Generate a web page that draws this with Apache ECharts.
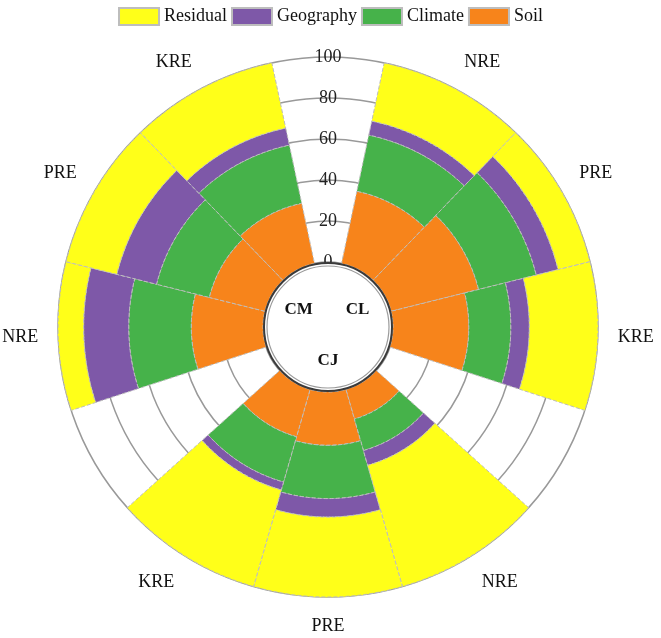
<!DOCTYPE html>
<html><head><meta charset="utf-8">
<script src="https://cdn.jsdelivr.net/npm/echarts@6/dist/echarts.min.js"></script>
<style>html,body{margin:0;padding:0;background:#fff}#c{width:661px;height:638px}</style>
</head><body><div id="c"></div>
<script>
// ---- data ----
const groups = ['CL', 'CJ', 'CM'];
const barNames = ['NRE', 'PRE', 'KRE'];
// order: CL-NRE, CL-PRE, CL-KRE, CJ-NRE, CJ-PRE, CJ-KRE, CM-NRE, CM-PRE, CM-KRE
const soil      = [36, 44, 37,   15, 26, 24,   35, 28,   30];
const climate   = [28, 29, 20.5, 16, 26, 23,   30.5, 26.5, 29];
const geography = [7,  11, 9,    7.5, 9, 4,    22, 20,   8.5];
const residual  = [29, 16, 33.5, 61.5, 39, 49, 12.5, 25.5, 32.5];
const radiusTicks = [0, 20, 40, 60, 80, 100];
const legendOrder = ['Residual', 'Geography', 'Climate', 'Soil'];

// ---- layout helpers ----
const SLOTS = 45;                 // angular slots of 8 degrees
const SLOT_DEG = 360 / SLOTS;
const BAR_SLOTS = 4;              // each bar spans 4 slots
function slotOf(i) { const g = Math.floor(i / 3), b = i % 3; return 15 * g + 3 + BAR_SLOTS * b; }
function angleOf(i) { return (slotOf(i) + 0.5) * SLOT_DEG; }
const slotLabels = new Array(SLOTS).fill('');
for (let i = 0; i < 9; i++) slotLabels[slotOf(i)] = barNames[i % 3];

const CX = 328, CY = 327, R0 = 65, R1 = 270;
const FONT = '"Liberation Serif", "Times New Roman", serif';
const colors = { Residual: '#FFFF19', Geography: '#7E58A8', Climate: '#46B24A', Soil: '#F7841B' };

function mkSeries(name, vals) {
  return {
    name, type: 'bar', coordinateSystem: 'polar', polarIndex: 0, stack: 'all',
    barWidth: BAR_SLOTS * SLOT_DEG,
    data: vals.map((v, i) => [v, angleOf(i)]),
    itemStyle: { color: colors[name], borderColor: '#bdbdbd', borderWidth: 1, borderType: 'dashed' },
    silent: true, z: 3
  };
}

const graphic = [
  { type: 'circle', shape: { cx: CX, cy: CY, r: R0 - 1 }, style: { fill: '#fff', stroke: '#3a3a3a', lineWidth: 2 }, z: 10 },
  { type: 'circle', shape: { cx: CX, cy: CY, r: R0 - 4 }, style: { fill: 'none', stroke: '#9a9a9a', lineWidth: 1.2 }, z: 10 }
];
groups.forEach((g, gi) => {
  const a = (angleOf(gi * 3 + 1)) * Math.PI / 180;
  graphic.push({
    type: 'text', z: 11,
    style: { text: g, x: CX + 34 * Math.sin(a), y: CY - 34 * Math.cos(a), align: 'center', verticalAlign: 'middle',
      font: 'bold 17px ' + FONT, fill: '#111' }
  });
});

const chart = echarts.init(document.getElementById('c'));
chart.setOption({
  animation: false,
  legend: {
    data: legendOrder, top: 2, left: 'center', icon: 'rect', itemWidth: 40, itemHeight: 17, itemGap: 4,
    textStyle: { fontFamily: FONT, fontSize: 18, color: '#111' }
  },
  polar: [
    { center: [CX, CY], radius: [R0, R1] },
    { center: [CX, CY], radius: [R0, R1] }
  ],
  angleAxis: [
    { polarIndex: 0, type: 'value', min: 0, max: 360, startAngle: 90, clockwise: true, show: false },
    { polarIndex: 1, type: 'category', data: slotLabels, startAngle: 90, clockwise: true,
      axisLine: { show: false }, axisTick: { show: false }, splitLine: { show: false },
      axisLabel: { interval: 0, margin: 20, fontFamily: FONT, fontSize: 18, color: '#111' } }
  ],
  radiusAxis: [
    { polarIndex: 0, type: 'value', min: 0, max: 100, show: false },
    { polarIndex: 1, type: 'value', min: radiusTicks[0], max: radiusTicks[radiusTicks.length - 1],
      interval: radiusTicks[1] - radiusTicks[0],
      axisLine: { show: false }, axisTick: { show: false },
      axisLabel: { margin: 0, align: 'center', verticalAlign: 'middle', fontFamily: FONT, fontSize: 18, color: '#222' },
      splitLine: { show: true, lineStyle: { color: '#999', width: 1.5 } } }
  ],
  graphic,
  series: [
    mkSeries('Soil', soil),
    mkSeries('Climate', climate),
    mkSeries('Geography', geography),
    mkSeries('Residual', residual)
  ]
});
</script></body></html>
